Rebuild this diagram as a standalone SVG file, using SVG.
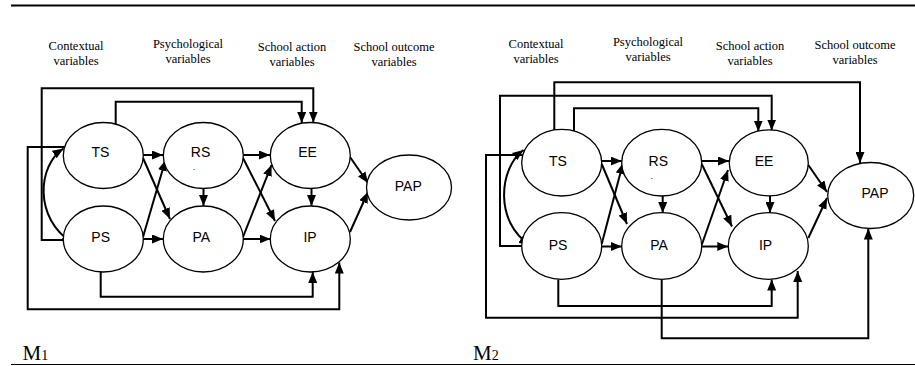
<svg xmlns="http://www.w3.org/2000/svg" width="915" height="366" viewBox="0 0 915 366">
<defs>
<marker id="ah" viewBox="0 0 11 9" refX="11" refY="4.5" markerWidth="11" markerHeight="9" orient="auto-start-reverse" markerUnits="userSpaceOnUse"><path d="M0,0 L11,4.5 L0,9 z" fill="#000"/></marker>
</defs>
<style>
.hd{font-family:"Liberation Serif","Times New Roman",serif;font-size:12.5px;fill:#000;text-anchor:middle}
.nd ellipse{fill:#fff;stroke:#000;stroke-width:1.3}
.nd text{font-family:"Liberation Sans",Arial,sans-serif;font-size:14px;fill:#000;text-anchor:middle}
.nd text.dot{font-size:9px}
.c path{fill:none;stroke:#000;stroke-width:2;marker-end:url(#ah)}
.c path.both{marker-start:url(#ah)}
.m{font-family:"Liberation Serif","Times New Roman",serif;fill:#000}
</style>
<rect width="915" height="366" fill="#fff"/>
<line x1="11" y1="5.5" x2="915" y2="5.5" stroke="#000" stroke-width="2"/>
<line x1="11" y1="364.5" x2="915" y2="364.5" stroke="#000" stroke-width="1"/>

<g id="headers-left">
<text class="hd" x="76" y="50">Contextual</text><text class="hd" x="76" y="64.5">variables</text>
<text class="hd" x="188" y="47.5">Psychological</text><text class="hd" x="188" y="62.5">variables</text>
<text class="hd" x="292" y="50.5">School action</text><text class="hd" x="292" y="65.5">variables</text>
<text class="hd" x="394" y="50.5">School outcome</text><text class="hd" x="394" y="65.5">variables</text>
</g>
<g id="headers-right">
<text class="hd" x="536" y="47.5">Contextual</text><text class="hd" x="536" y="62.5">variables</text>
<text class="hd" x="648" y="45.5">Psychological</text><text class="hd" x="648" y="60.5">variables</text>
<text class="hd" x="750" y="50">School action</text><text class="hd" x="750" y="64.5">variables</text>
<text class="hd" x="855" y="48.5">School outcome</text><text class="hd" x="855" y="63.5">variables</text>
</g>

<g id="connectors" class="c">
<!-- M1 -->
<path d="M143,155 H163"/>
<path d="M143,158 L170,219"/>
<path d="M143,237 L165.5,160"/>
<path d="M143,239 H163"/>
<path d="M203.5,188.5 V206"/>
<path d="M243,155 H270"/>
<path d="M243,158 L275,221"/>
<path d="M243,237 L271.5,165"/>
<path d="M243,239 H270.5"/>
<path d="M311.5,188.5 V206"/>
<path d="M350,157 L368,183"/>
<path d="M350,232 L368,192"/>
<path class="both" d="M63.5,148.5 C38,165 33,218 72.5,243"/>
<path d="M64.5,147 H27.7 V309.3 H339.3 V262.5"/>
<path d="M63.5,240 H41.7 V88.3 H313.3 V122.5"/>
<path d="M115.7,124 V101.7 H301.7 V123"/>
<path d="M100.7,272 V296.7 H312.7 V272"/>
<!-- M2 -->
<path d="M601.7,161 H621.7"/>
<path d="M601.7,164 L627,224"/>
<path d="M601.7,244 L623,163"/>
<path d="M601.7,246.5 H621.7"/>
<path d="M662.7,196 V213"/>
<path d="M701.7,161 H729"/>
<path d="M701.7,164 L732,226.5"/>
<path d="M701.7,245 L728,170"/>
<path d="M701.7,246.5 H728.3"/>
<path d="M770,196 V213"/>
<path d="M808.3,165 L827,192"/>
<path d="M808.3,238 L827,198"/>
<path class="both" d="M523.5,150 C499,168 494,222 530,245"/>
<path d="M522.5,155 H486 V317.7 H797.7 V271"/>
<path d="M521.7,246 H500 V95.7 H771.7 V130.5"/>
<path d="M574,131 V108.3 H758.3 V131.5"/>
<path d="M554.3,130 V82.3 H860 V163"/>
<path d="M558.3,279.5 V306 H771.7 V279.5"/>
<path d="M661.7,279.5 V338.3 H868.3 V228.5"/>
</g>

<g id="M1-TS" class="nd"><ellipse cx="103.3" cy="155.5" rx="40" ry="33"/><text x="100.5" y="157">TS</text></g>
<g id="M1-RS" class="nd"><ellipse cx="203.3" cy="155.5" rx="40" ry="33"/><text x="200.5" y="157">RS</text><text class="dot" x="194" y="170">.</text></g>
<g id="M1-EE" class="nd"><ellipse cx="310.3" cy="155.5" rx="40" ry="33"/><text x="307.5" y="157">EE</text></g>
<g id="M1-PS" class="nd"><ellipse cx="103.3" cy="239" rx="40" ry="33"/><text x="100.7" y="242">PS</text></g>
<g id="M1-PA" class="nd"><ellipse cx="203.3" cy="239" rx="40" ry="33"/><text x="201.3" y="242">PA</text></g>
<g id="M1-IP" class="nd"><ellipse cx="310.3" cy="239" rx="40" ry="33"/><text x="310" y="242">IP</text></g>
<g id="M1-PAP" class="nd"><ellipse cx="409" cy="187.5" rx="42.5" ry="32.5"/><text x="408.3" y="191">PAP</text></g>

<g id="M2-TS" class="nd"><ellipse cx="561.7" cy="162.7" rx="40" ry="33.3"/><text x="558" y="165.5">TS</text></g>
<g id="M2-RS" class="nd"><ellipse cx="661.7" cy="162.7" rx="40" ry="33.3"/><text x="658.3" y="165.5">RS</text><text class="dot" x="651.7" y="178.5">.</text></g>
<g id="M2-EE" class="nd"><ellipse cx="768.8" cy="162.9" rx="39.5" ry="33"/><text x="764" y="165.5">EE</text></g>
<g id="M2-PS" class="nd"><ellipse cx="561.7" cy="246" rx="40" ry="33.3"/><text x="558" y="249.5">PS</text></g>
<g id="M2-PA" class="nd"><ellipse cx="661.7" cy="246" rx="40" ry="33.3"/><text x="659" y="249.5">PA</text></g>
<g id="M2-IP" class="nd"><ellipse cx="768.3" cy="246" rx="40" ry="33.3"/><text x="765.5" y="249.5">IP</text></g>
<g id="M2-PAP" class="nd"><ellipse cx="870.7" cy="195.5" rx="43" ry="33"/><text x="875" y="197.5">PAP</text></g>

<g id="labels">
<text class="m" x="22.5" y="360" font-size="21">M<tspan font-size="14">1</tspan></text>
<text class="m" x="473" y="360" font-size="21">M<tspan font-size="14">2</tspan></text>
</g>
</svg>
